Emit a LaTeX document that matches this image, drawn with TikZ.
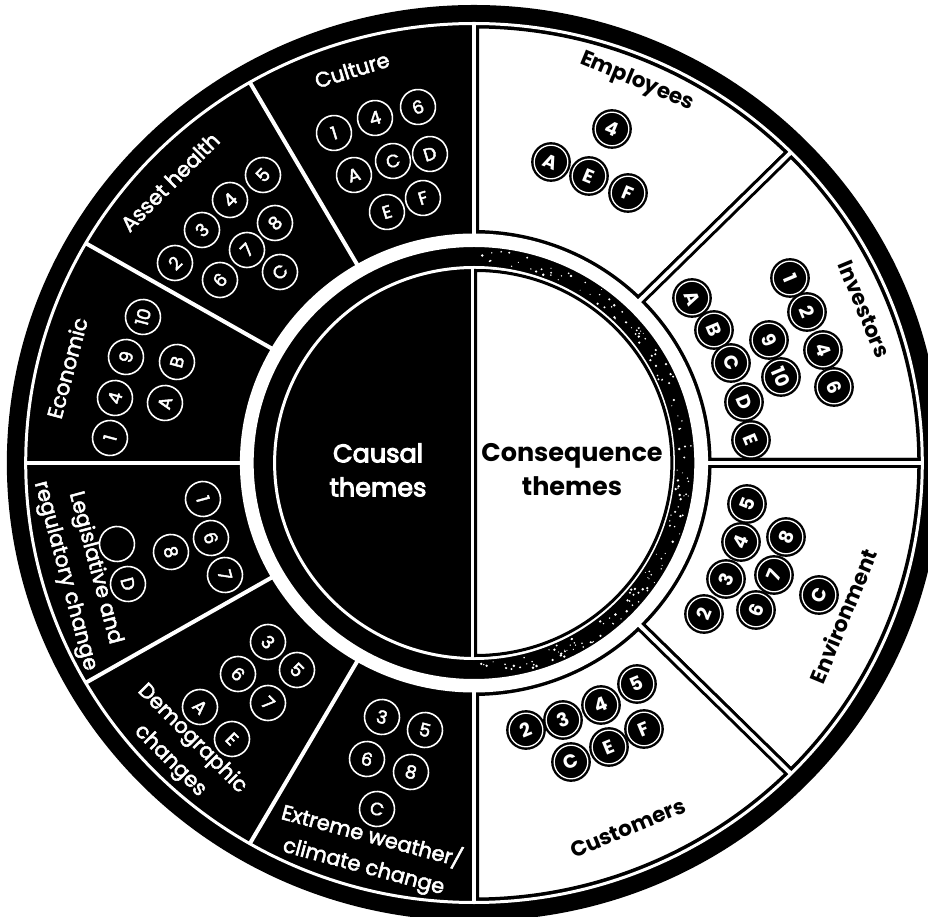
\documentclass[tikz,border=0pt]{standalone}
\usepackage{fontspec}
\setmainfont{Poppins}
\newfontfamily\medfont{Poppins}[FakeBold=2.5]
\newfontfamily\mainmed{Poppins}[FakeBold=4]
\begin{document}
\begin{tikzpicture}[x=1pt,y=1pt,
  lblw/.style={font=\fontsize{21}{31}\medfont, align=center, inner sep=0pt, text=white},
  lblb/.style={font=\fontsize{21.5}{31}\selectfont\bfseries, align=center, inner sep=0pt, text=black},
  cw/.style={circle, draw=white, line width=1.6pt, fill=black, minimum size=35pt, inner sep=0pt, text=white, font=\fontsize{18}{18}\medfont},
  cb/.style={circle, fill=black, draw=black, double=white, double distance=1.3pt, line width=2.4pt, minimum size=33.6pt, inner sep=0pt, text=white, font=\fontsize{19}{19}\selectfont\bfseries},
  seg/.style={draw=black, line width=10pt, fill=white},
  gap/.style={draw=white, line width=4pt}
]
\useasboundingbox (-474,-454) rectangle (454,463);
\clip (-474,-454) rectangle (454,463);
\fill[white] (-474,-454) rectangle (454,463);
% ---------- geometry ----------
\begin{scope}[xscale=1.02]
  \fill[black] (0,0) circle (458);
  \foreach \a/\b in {45/90, 0/45, -45/0, -90/-45} {
    \path[seg] (\a:228) arc[start angle=\a, end angle=\b, radius=228]
      -- (\b:439.5) arc[start angle=\b, end angle=\a, radius=439.5] -- cycle;
  }
  \foreach \a in {120,150,180,210,240,90,45,0,-45,-90}
    \draw[gap] (\a:226) -- (\a:440);
  \draw[white, line width=3pt] (0,0) circle (439.5);
  \fill[white, even odd rule] (0,0) circle (229.5) circle (216);
  \draw[white, line width=3pt] (0,0) circle (195.5);
  % speckles of the right half of the ring
  \pgfmathsetseed{7}
  \foreach \k in {1,...,160} {
    \pgfmathsetmacro{\ang}{-88+176*rnd}
    \pgfmathsetmacro{\rad}{199+15*rnd}
    \pgfmathsetmacro{\dr}{0.5+0.9*rnd}
    \fill[white] (\ang:\rad) circle (\dr);
  }
  \draw[white, line width=3pt] (-1.5,-196) -- (-1.5,196);
  \draw[black, line width=3pt, fill=white, xshift=1.5pt]
    (-90:192.5) arc[start angle=-90, end angle=90, radius=192.5] -- cycle;
\end{scope}
% ---------- texts and circles (image coordinates) ----------
\begin{scope}[shift={(-474,463)}, y=-1pt]
  \node[font=\fontsize{25.5}{34}\mainmed, text=white, align=center, inner sep=0pt] (causal) at (378,470) {Causal\\themes};
  \node[font=\fontsize{25.5}{34}\selectfont\bfseries, align=center, inner sep=0pt] (conseq) at (572,470) {Consequence\\themes};

  \node[lblw, rotate=17] (lcul) at (352,70) {Culture};
  \node[lblw, rotate=45] (lass) at (170,182) {Asset health};
  \node[lblw, rotate=75] (leco) at (67,368) {Economic};
  \node[lblw, rotate=-75] (lleg) at (80,572) {Legislative and\\regulatory change};
  \node[lblw, rotate=-45] (ldem) at (181,750) {Demographic\\changes};
  \node[lblw, rotate=-15] (lext) at (368,851) {Extreme weather/\\climate change};
  \node[lblb, rotate=-22.5] (lemp) at (637,82) {Employees};
  \node[lblb, rotate=-67.5] (linv) at (864,309) {Investors};
  \node[lblb, rotate=67.5] (lenv) at (843,616) {Environment};
  \node[lblb, rotate=22.5] (lcus) at (628,828) {Customers};

  \foreach \i/\x/\y/\t in {1/334/133/1, 2/375/118/4, 3/418/107/6, 4/354/175/A, 5/393/161/C, 6/430/154/D, 7/387/212/E, 8/423/198/F}
    \node[cw, rotate=17] (cul\i) at (\x,\y) {\t};
  \foreach \i/\x/\y/\t in {1/263/175/5, 2/230/200/4, 3/202/230/3, 4/175/263/2, 5/275/223/8, 6/247/250/7, 7/220/280/6, 8/280/272/C}
    \node[cw, rotate=45] (ass\i) at (\x,\y) {\t};
  \foreach \i/\x/\y/\t in {1/143/317/10, 2/126/357/9, 3/115/398/4, 4/110/438/1, 5/177/362/B, 6/165/403/A}
    \node[cw, rotate=75] (eco\i) at (\x,\y) {\t};
  \foreach \i/\x/\y/\t in {1/203/499/1, 2/211/538/6, 3/225/575/7, 4/171/552/8, 5/117/544/{}, 6/128/584/D}
    \node[cw, rotate=-75] (leg\i) at (\x,\y) {\t};
  \foreach \i/\x/\y/\t in {1/268/642/3, 2/238/674/6, 3/297/670/5, 4/268/703/7, 5/200/707/A, 6/232/739/E}
    \node[cw, rotate=-45] (dem\i) at (\x,\y) {\t};
  \foreach \i/\x/\y/\t in {1/382/717/3, 2/425/730/5, 3/367/759/6, 4/411/772/8, 5/377/809/C}
    \node[cw, rotate=-15] (ext\i) at (\x,\y) {\t};

  \foreach \i/\x/\y/\t in {1/612/129/4, 2/551/162/A, 3/589/176/E, 4/628/193/F}
    \node[cb, rotate=-22.5] (emp\i) at (\x,\y) {\t};
  \foreach \i/\x/\y/\t in {1/790/278/1, 2/807/312/2, 3/823/350/4, 4/834/387/6, 5/692/298/A, 6/714/330/B, 7/731/363/C, 8/744/402/D, 9/751/440/E, 10/769/340/9, 11/781/377/10}
    \node[cb, rotate=-67.5] (inv\i) at (\x,\y) {\t};
  \foreach \i/\x/\y/\t in {1/747/504/5, 2/741/542/4, 3/786/537/8, 4/726/579/3, 5/774/575/7, 6/704/614/2, 7/756/610/6, 8/819/595/C}
    \node[cb, rotate=67.5] (env\i) at (\x,\y) {\t};
  \foreach \i/\x/\y/\t in {1/526/730/2, 2/563/720/3, 3/601/705/4, 4/637/684/5, 5/571/762/C, 6/609/747/E, 7/644/729/F}
    \node[cb, rotate=22.5] (cus\i) at (\x,\y) {\t};
\end{scope}
\end{tikzpicture}
\end{document}
